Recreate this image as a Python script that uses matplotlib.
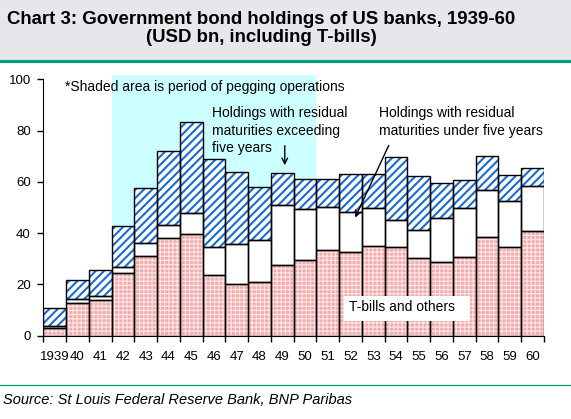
import matplotlib
matplotlib.use("Agg")
import matplotlib.pyplot as plt
from matplotlib.patches import Rectangle
from matplotlib.lines import Line2D

plt.rcParams['font.family'] = ['Liberation Sans', 'DejaVu Sans']
plt.rcParams['hatch.linewidth'] = 1.1

# data (USD bn)
years = ['1939', '40', '41', '42', '43', '44', '45', '46', '47', '48', '49',
         '50', '51', '52', '53', '54', '55', '56', '57', '58', '59', '60']
tbills = [3.0, 12.6, 13.8, 24.3, 30.9, 38.0, 39.7, 23.5, 20.0, 20.8, 27.4,
          29.4, 33.3, 32.5, 34.9, 34.5, 30.2, 28.7, 30.7, 38.4, 34.5, 40.7]
under5_top = [3.6, 14.3, 15.3, 26.9, 36.0, 43.2, 47.7, 34.5, 35.8, 37.5, 50.8,
              49.3, 50.1, 48.1, 49.7, 45.1, 41.1, 45.8, 49.9, 56.8, 52.4, 58.3]
total = [10.9, 21.6, 25.5, 42.9, 57.6, 72.0, 83.4, 68.9, 63.7, 58.0, 63.3,
         61.1, 61.0, 62.9, 62.9, 69.6, 62.4, 59.4, 60.6, 70.0, 62.5, 65.3]
under5 = [u - t for u, t in zip(under5_top, tbills)]
over5 = [s - u for s, u in zip(total, under5_top)]
peg_start, peg_end = 3, 11  # 1942 .. 1950

x = list(range(len(years)))

fig = plt.figure(figsize=(5.71, 4.19), dpi=100)
ax = fig.add_axes([43.3 / 571, 83.3 / 419, (544 - 43.3) / 571, 260.5 / 419])

# header band
fig.patches.append(Rectangle((0, 359 / 419), 1, 60 / 419, transform=fig.transFigure,
                             facecolor='#E7E7EB', edgecolor='none', zorder=0))
fig.lines.append(Line2D([0, 1], [357.5 / 419, 357.5 / 419], transform=fig.transFigure,
                        color='#00A07E', linewidth=2.3))
fig.lines.append(Line2D([0, 1], [34 / 419, 34 / 419], transform=fig.transFigure,
                        color='#00A07E', linewidth=0.9))

fig.text(0.457, 1 - 19.5 / 419, 'Chart 3: Government bond holdings of US banks, 1939-60',
         ha='center', va='center', fontsize=13.4, fontweight='bold')
fig.text(0.457, 1 - 37.5 / 419, '(USD bn, including T-bills)',
         ha='center', va='center', fontsize=13.4, fontweight='bold')
fig.text(3 / 571, 19 / 419, 'Source: St Louis Federal Reserve Bank, BNP Paribas',
         ha='left', va='center', fontsize=10.5, style='italic')

# shaded pegging period
ax.axvspan(peg_start - 0.5, peg_end + 0.5, color='#CCFFFF', zorder=0, lw=0)

# fills
red = ax.bar(x, tbills, width=1.0, color='#F5AAAA', edgecolor='#FCE4E4',
             hatch='++++', linewidth=0, zorder=2)
for p in red:
    if hasattr(p, 'set_hatch_linewidth'):
        p.set_hatch_linewidth(0.9)
ax.bar(x, under5, width=1.0, bottom=tbills, color='white', linewidth=0, zorder=2)
blue = ax.bar(x, over5, width=1.0, bottom=under5_top, color='white', edgecolor='#1A6AD8',
              hatch='////', linewidth=0, zorder=2)
for p in blue:
    if hasattr(p, 'set_hatch_linewidth'):
        p.set_hatch_linewidth(1.5)
# outlines
for vals, bots in [(tbills, None), (under5, tbills), (over5, under5_top)]:
    ax.bar(x, vals, width=1.0, bottom=bots, fill=False, edgecolor='black',
           linewidth=1.0, zorder=3)

ax.set_xlim(-0.5, len(years) - 0.5)
ax.set_ylim(0, 101.6)
ax.spines['top'].set_visible(False)
ax.spines['right'].set_visible(False)
ax.spines['left'].set_bounds(0, 100)
ax.set_yticks([0, 20, 40, 60, 80, 100])
ax.tick_params(axis='y', length=4, width=1, pad=5, labelsize=9.5)

ax.set_xticks([i - 0.5 for i in range(len(years) + 1)])
ax.set_xticklabels([])
ax.set_xticks(x, minor=True)
ax.set_xticklabels(years, minor=True)
ax.tick_params(axis='x', which='major', length=4, width=1)
ax.tick_params(axis='x', which='minor', length=0, pad=11, labelsize=9.5)

# annotations
ax.text(0.45, 97.1, '*Shaded area is period of pegging operations', fontsize=10,
        ha='left', va='center', zorder=5)
ax.text(6.91, 80.0, 'Holdings with residual\nmaturities exceeding\nfive years', fontsize=10,
        ha='left', va='center', linespacing=1.3, zorder=5)
ax.text(14.23, 83.3, 'Holdings with residual\nmaturities under five years', fontsize=10,
        ha='left', va='center', linespacing=1.3, zorder=5)
ax.annotate('', xy=(10.11, 65.4), xytext=(10.11, 75.2),
            arrowprops=dict(arrowstyle='->', color='black', lw=1), zorder=5)
ax.annotate('', xy=(13.15, 45.1), xytext=(14.73, 75.2),
            arrowprops=dict(arrowstyle='->', color='black', lw=1), zorder=5)
ax.add_patch(Rectangle((12.71, 5.9), 5.56, 9.7, facecolor='white', edgecolor='none', zorder=4))
ax.text(12.93, 11.0, 'T-bills and others', fontsize=10, ha='left', va='center', zorder=5)

fig.savefig('out.png', dpi=100)
